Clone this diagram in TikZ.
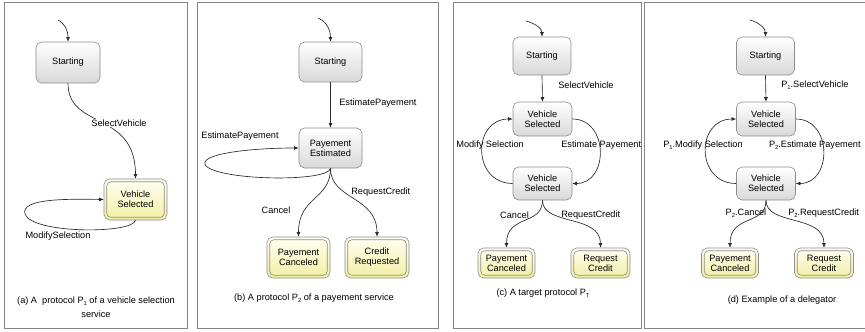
\documentclass[tikz,border=0pt]{standalone}
\usepackage{fontspec}
\setmainfont{Liberation Sans}
\usetikzlibrary{arrows.meta}
\newcommand\lblfont{\fontsize{6.9}{7.6}\selectfont}
\newcommand\mysub[1]{\raisebox{-0.5ex}{\fontsize{4.3}{5}\selectfont #1}}
\definecolor{stTop}{HTML}{FFFFFF}
\definecolor{stBot}{HTML}{D8D8D8}
\definecolor{finTop}{HTML}{FFFFF2}
\definecolor{finBot}{HTML}{F2EEA4}
\definecolor{edgeC}{HTML}{2A2A2A}
\definecolor{brdC}{HTML}{8C8C8C}
\definecolor{frameC}{HTML}{858585}
\tikzset{
  st/.style={draw=brdC, line width=0.45pt, rounded corners=4.2pt, top color=stTop, bottom color=stBot, inner sep=0pt, align=center, font=\lblfont},
  fin/.style={draw=brdC, line width=0.45pt, rounded corners=4.2pt, top color=finTop, bottom color=finBot, inner sep=0pt, align=center, font=\lblfont},
  innerb/.style={draw=brdC, line width=0.45pt, rounded corners=3pt},
  arr/.style={draw=edgeC, line width=0.5pt, -{Latex[length=3.4pt,width=3pt]}},
  lab/.style={font=\lblfont, inner sep=0.8pt},
  frame/.style={draw=frameC, line width=0.7pt},
}
\begin{document}
\begin{tikzpicture}[x=0.75pt,y=-0.75pt]
\useasboundingbox (0,0) rectangle (865,332);
% frames
\draw[frame] (4,2) rectangle (187,328);
\draw[frame] (197,2) rectangle (438,328);
\draw[frame] (453,2) rectangle (641,328);
\draw[frame] (870,2) -- (644,2) -- (644,328) -- (870,328);

% ---------- panel (a)
\node[st, minimum width=48pt, minimum height=30.75pt] (a0) at (68,62.5) {Starting};
\node[fin, minimum width=47.25pt, minimum height=30.75pt] (a1) at (135.5,199.5) {Vehicle\\Selected};
\coordinate (ai) at (58,20);
\draw[arr] (ai) .. controls (65,24) and (68,30) .. (a0.north);
\draw[arr] (a0.south) .. controls (68,130) and (135.5,110) .. (a1.north);
\node[lab, fill=white] (la1) at (119,123) {SelectVehicle};
\draw[arr] (a1.south) .. controls (133,234) and (32,234) .. (25,214) .. controls (20,198) and (70,199) .. (a1.west);
\node[lab] (la2) at (58,236) {ModifySelection};
\node[lab, align=center, font={\fontsize{6.9}{10.5}\selectfont}] (capa) at (96,307) {(a) A\ \ protocol P\mysub{1} of a vehicle selection\\service};

% ---------- panel (b)
\node[st, minimum width=47.25pt, minimum height=30pt] (b0) at (330.5,62) {Starting};
\node[st, minimum width=47.25pt, minimum height=30pt] (b1) at (330.5,148) {Payement\\Estimated};
\node[fin, minimum width=47.25pt, minimum height=30.75pt] (b2) at (298.5,257.5) {Payement\\Canceled};
\node[fin, minimum width=48pt, minimum height=30.75pt] (b3) at (377,257.5) {Credit\\Requested};
\coordinate (bi) at (318,18);
\draw[arr] (bi) .. controls (325,21) and (330.5,28) .. (b0.north);
\draw[arr] (b0.south) -- (b1.north);
\node[lab, anchor=west] (lb1) at (338,103) {EstimatePayement};
\draw[arr] (b1.south) .. controls (329,182) and (222,181) .. (206,166) .. controls (196,154) and (250,148) .. (b1.west);
\node[lab] (lb2) at (240,136) {EstimatePayement};
\draw[arr] (b1.south) .. controls (330.5,200) and (298.5,196) .. (b2.north);
\node[lab] (lb3) at (276,210) {Cancel};
\draw[arr] (b1.south) .. controls (330.5,200) and (377,196) .. (b3.north);
\node[lab, anchor=west] (lb4) at (350,192) {RequestCredit};
\node[lab] (capb) at (314,298) {(b) A protocol P\mysub{2} of a payement service};

% ---------- panel (c)
\node[st, minimum width=43.5pt, minimum height=28.5pt] (c0) at (542,56) {Starting};
\node[st, minimum width=44.25pt, minimum height=25.5pt] (c1) at (542.5,119) {Vehicle\\Selected};
\node[st, minimum width=44.25pt, minimum height=24.75pt] (c2) at (542.5,183.5) {Vehicle\\Selected};
\node[fin, minimum width=42.75pt, minimum height=22.5pt] (c3) at (506.5,263) {Payement\\Canceled};
\node[fin, minimum width=44.25pt, minimum height=22.5pt] (c4) at (600.5,263) {Request\\Credit};
\coordinate (ci) at (526,21);
\draw[arr] (ci) .. controls (534,23) and (542,28) .. (c0.north);
\draw[arr] (c0.south) -- (c1.north);
\node[lab, anchor=west] (lc1) at (557,85) {SelectVehicle};
\draw[arr] (c2.west) .. controls (472,183.5) and (472,119) .. (c1.west);
\node[lab, anchor=west] (lc2) at (455,145) {Modify Selection};
\draw[arr] (c1.east) .. controls (609,119) and (609,183.5) .. (c2.east);
\node[lab, anchor=west] (lc3) at (560,145) {Estimate Payement};
\draw[arr] (c2.south) .. controls (542.5,226) and (506.5,214) .. (c3.north);
\node[lab] (lc4) at (514.5,215) {Cancel};
\draw[arr] (c2.south) .. controls (542.5,226) and (600.5,214) .. (c4.north);
\node[lab, anchor=west] (lc5) at (560,215) {RequestCredit};
\node[lab] (capc) at (543,293) {(c) A target protocol P\mysub{T}};

% ---------- panel (d)
\node[st, minimum width=43.5pt, minimum height=28.5pt] (d0) at (765.5,56) {Starting};
\node[st, minimum width=44.25pt, minimum height=25.5pt] (d1) at (766,119) {Vehicle\\Selected};
\node[st, minimum width=44.25pt, minimum height=24.75pt] (d2) at (766,183.5) {Vehicle\\Selected};
\node[fin, minimum width=42.75pt, minimum height=22.5pt] (d3) at (730,263) {Payement\\Canceled};
\node[fin, minimum width=44.25pt, minimum height=22.5pt] (d4) at (824,263) {Request\\Credit};
\coordinate (di) at (750,20);
\draw[arr] (di) .. controls (758,22) and (765.5,28) .. (d0.north);
\draw[arr] (d0.south) -- (d1.north);
\node[lab, anchor=west] (ld1) at (780,85) {P\mysub{1}.SelectVehicle};
\draw[arr] (d2.west) .. controls (695.5,183.5) and (695.5,119) .. (d1.west);
\node[lab, anchor=east] (ld2) at (744,145) {P\mysub{1}.Modify Selection};
\draw[arr] (d1.east) .. controls (832.5,119) and (832.5,183.5) .. (d2.east);
\node[lab, anchor=east] (ld3) at (862,145) {P\mysub{2}.Estimate Payement};
\draw[arr] (d2.south) .. controls (766,226) and (730,214) .. (d3.north);
\node[lab] (ld4) at (746,213) {P\mysub{2}.Cancel};
\draw[arr] (d2.south) .. controls (766,226) and (824,214) .. (d4.north);
\node[lab, anchor=west] (ld5) at (787,213) {P\mysub{2}.RequestCredit};
\node[lab] (capd) at (782,300) {(d) Example of a delegator};

% inner borders of final states
\foreach \n in {a1,b2,b3,c3,c4,d3,d4}
  \draw[innerb] ([shift={(2.3pt,-2.3pt)}]\n.north west) rectangle ([shift={(-2.3pt,2.3pt)}]\n.south east);
\end{tikzpicture}
\end{document}
